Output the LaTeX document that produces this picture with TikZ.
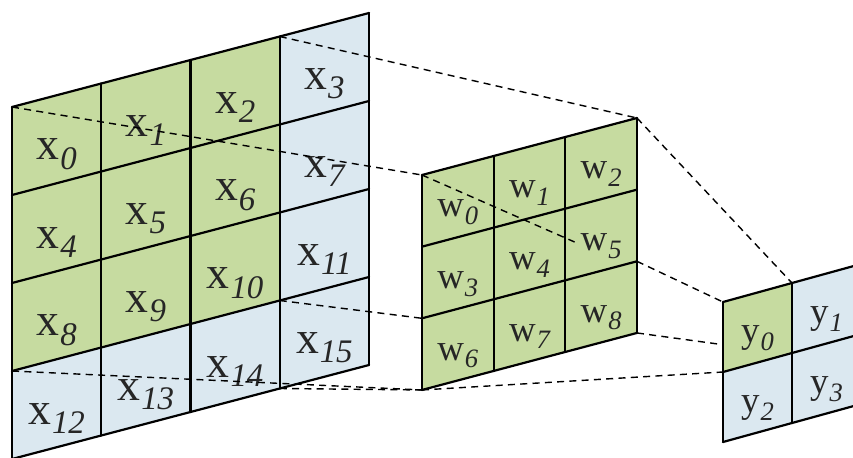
\documentclass[tikz,border=0pt]{standalone}
\usepackage{fontspec}
\setmainfont{Liberation Serif}
\usepackage{tikz}
\definecolor{cellgreen}{RGB}{198,219,160}
\definecolor{cellblue}{RGB}{219,232,240}
\tikzset{
  cellg/.style={fill=cellgreen},
  cellb/.style={fill=cellblue},
  gridline/.style={line width=1.25pt,line cap=round,line join=round},
  proj/.style={dashed,line width=0.8pt,dash pattern=on 4pt off 3pt},
  xlab/.style={font=\fontsize{26}{28}\selectfont,text=black!85,inner sep=0pt},
  wlab/.style={font=\fontsize{21}{23}\selectfont,text=black!85,inner sep=0pt}
}
\newcommand{\cell}[2]{#1\kern0.5pt\raisebox{-0.45ex}{\scalebox{0.72}{\itshape #2}}}

\begin{document}
\begin{tikzpicture}
  \useasboundingbox (0,0) rectangle (17.06,9.14);
  \clip (0,0) rectangle (17.06,9.14);

  % input x
  \begin{scope}[shift={(0.24,7.0)},x={(1.785cm,0.47cm)},y={(0cm,-1.76cm)}]
    \fill[cellg] (0,0) -- (4,0) -- (4,4) -- (0,4) -- cycle;
    \fill[cellb] (3,0) -- (4,0) -- (4,4) -- (3,4) -- cycle;
    \fill[cellb] (0,3) -- (3,3) -- (3,4) -- (0,4) -- cycle;
    \foreach \k in {0,...,4} {
      \draw[gridline] (\k,0) -- (\k,4);
      \draw[gridline] (0,\k) -- (4,\k);
    }
    \foreach \n in {0,...,15} {
      \pgfmathtruncatemacro{\ci}{mod(\n,4)}
      \pgfmathtruncatemacro{\cj}{\n/4}
      \node[xlab,yshift=-0.3cm] (x\n) at (\ci+0.5,\cj+0.5) {\cell{x}{\n}};
    }
    \coordinate (xTL) at (0,0);
    \coordinate (x3TL) at (3,0);
    \coordinate (x15TL) at (3,3);
    \coordinate (x14BR) at (3,4);
    \coordinate (x12TL) at (0,3);
  \end{scope}

  % kernel w
  \begin{scope}[shift={(8.44,5.64)},x={(1.433cm,0.38cm)},y={(0cm,-1.433cm)}]
    \fill[cellg] (0,0) -- (3,0) -- (3,3) -- (0,3) -- cycle;
    \foreach \k in {0,...,3} {
      \draw[gridline] (\k,0) -- (\k,3);
      \draw[gridline] (0,\k) -- (3,\k);
    }
    \foreach \n in {0,...,8} {
      \pgfmathtruncatemacro{\ci}{mod(\n,3)}
      \pgfmathtruncatemacro{\cj}{\n/3}
      \node[wlab,yshift=-0.22cm] (w\n) at (\ci+0.5,\cj+0.5) {\cell{w}{\n}};
    }
    \coordinate (wTL) at (0,0);
    \coordinate (wTR) at (3,0);
    \coordinate (w8TR) at (3,2);
    \coordinate (w6TL) at (0,2);
    \coordinate (wBL) at (0,3);
    \coordinate (wBR) at (3,3);
    \coordinate (wmid) at (2.13,1.5);
  \end{scope}

  % output y
  \begin{scope}[shift={(14.46,3.10)},x={(1.38cm,0.38cm)},y={(0cm,-1.40cm)}]
    \fill[cellb] (0,0) -- (2,0) -- (2,2) -- (0,2) -- cycle;
    \fill[cellg] (0,0) -- (1,0) -- (1,1) -- (0,1) -- cycle;
    \foreach \k in {0,...,2} {
      \draw[gridline] (\k,0) -- (\k,2);
      \draw[gridline] (0,\k) -- (2,\k);
    }
    \foreach \n in {0,...,3} {
      \pgfmathtruncatemacro{\ci}{mod(\n,2)}
      \pgfmathtruncatemacro{\cj}{\n/2}
      \node[wlab,yshift=-0.22cm] (y\n) at (\ci+0.5,\cj+0.5) {\cell{y}{\n}};
    }
    \coordinate (yTL) at (0,0);
    \coordinate (yTM) at (1,0);
    \coordinate (y0L) at (0,0.61);
    \coordinate (y2TL) at (0,1);
  \end{scope}

  % projection lines
  \draw[proj] (xTL) -- (wTL);
  \draw[proj] (x3TL) -- (wTR);
  \draw[proj] (x15TL) -- (w6TL);
  \draw[proj] (x14BR) -- (wBL);
  \draw[proj] (x12TL) -- (wBL);
  \draw[proj] (wTL) -- (wmid);
  \draw[proj] (wTR) -- (yTM);
  \draw[proj] (w8TR) -- (yTL);
  \draw[proj] (wBR) -- (y0L);
  \draw[proj] (wBL) -- (y2TL);
\end{tikzpicture}
\end{document}
